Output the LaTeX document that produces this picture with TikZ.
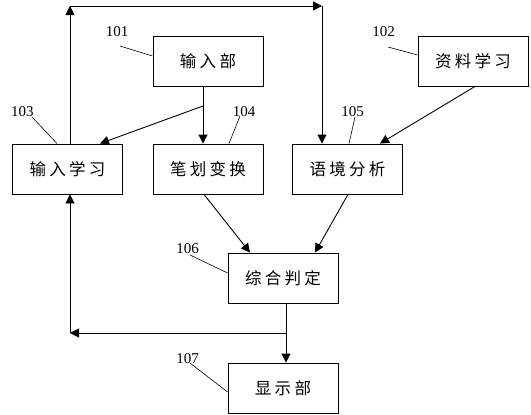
\documentclass[tikz,border=0pt]{standalone}
\usepackage{fontspec}
\setmainfont{Liberation Serif}
\newfontfamily\cjk[LetterSpace=20]{Noto Sans CJK SC}
\usetikzlibrary{arrows.meta}
\tikzset{
  x=1pt, y=-1pt,
  box/.style={draw, line width=0.9pt, minimum width=110pt, minimum height=50pt, inner sep=0pt,
    font=\cjk\fontsize{16.5}{18}\selectfont},
  num/.style={inner sep=0pt, font=\fontsize{15}{16}\selectfont},
  arr/.style={line width=0.9pt, -{Triangle[length=9pt,width=9pt]}},
  ln/.style={line width=0.9pt},
  leader/.style={line width=0.6pt}
}
\begin{document}
\begin{tikzpicture}
\useasboundingbox (0,0) rectangle (531,415);
% boxes
\node[box] (in)   at (208,61)    {输入部};
\node[box] (data) at (473,61)    {资料学习};
\node[box] (il)   at (67.5,169)  {输入学习};
\node[box] (bh)   at (208,169)   {笔划变换};
\node[box] (ctx)  at (347.5,169) {语境分析};
\node[box] (jd)   at (283,278)   {综合判定};
\node[box] (disp) at (283,388)   {显示部};
% numbers
\node[num] (n101) at (117,31.5)  {101};
\node[num] (n102) at (383.5,31.5){102};
\node[num] (n103) at (22.5,111.5){103};
\node[num] (n104) at (244,111.5) {104};
\node[num] (n105) at (352.5,111.5){105};
\node[num] (n106) at (187.5,249) {106};
\node[num] (n107) at (187.5,359) {107};
% leaders
\coordinate (l101) at (120,46);
\coordinate (l102) at (388,47);
\coordinate (l103) at (32,117);
\coordinate (l104) at (240,116);
\coordinate (l105) at (355,117);
\coordinate (l106) at (190,255);
\coordinate (l107) at (190,363);
\draw[leader] (l101) -- ([yshift=5pt]in.west);
\draw[leader] (l102) -- ([yshift=6pt]data.west);
\draw[leader] (l103) -- ([xshift=-10.5pt]il.north);
\draw[leader] (l104) -- ([xshift=21pt]bh.north);
\draw[leader] (l105) -- ([xshift=1.5pt]ctx.north);
\draw[leader] (l106) -- ([yshift=5pt]jd.west);
\draw[leader] (l107) -- ([yshift=-4pt]disp.west);
% connectors
\coordinate (s1) at (203,106);
\draw[ln] ([xshift=-5pt]in.south) -- (s1);
\draw[arr] (s1) -- ([xshift=-5pt]bh.north);
\draw[arr] (s1) -- ([xshift=32.5pt]il.north);
\coordinate (tl) at (70,6);
\coordinate (tr) at (322,6);
\draw[arr] ([xshift=2.5pt]il.north) -- (tl);
\draw[arr] (tl) -- (tr);
\draw[arr] (tr) -- (ctx.north-|tr);
\draw[arr] ([xshift=2pt]data.south) -- ([xshift=32.5pt]ctx.north);
\draw[arr] ([xshift=-4pt]bh.south) -- ([xshift=-33pt]jd.north);
\draw[arr] ([xshift=0.5pt]ctx.south) -- ([xshift=32pt]jd.north);
\coordinate (s2) at (286,333);
\coordinate (bl) at (70,333);
\draw[ln] ([xshift=3pt]jd.south) -- (s2);
\draw[arr] (s2) -- ([xshift=3pt]disp.north);
\draw[arr] (s2) -- (bl);
\draw[arr] (bl) -- (il.south-|bl);
\end{tikzpicture}
\end{document}
